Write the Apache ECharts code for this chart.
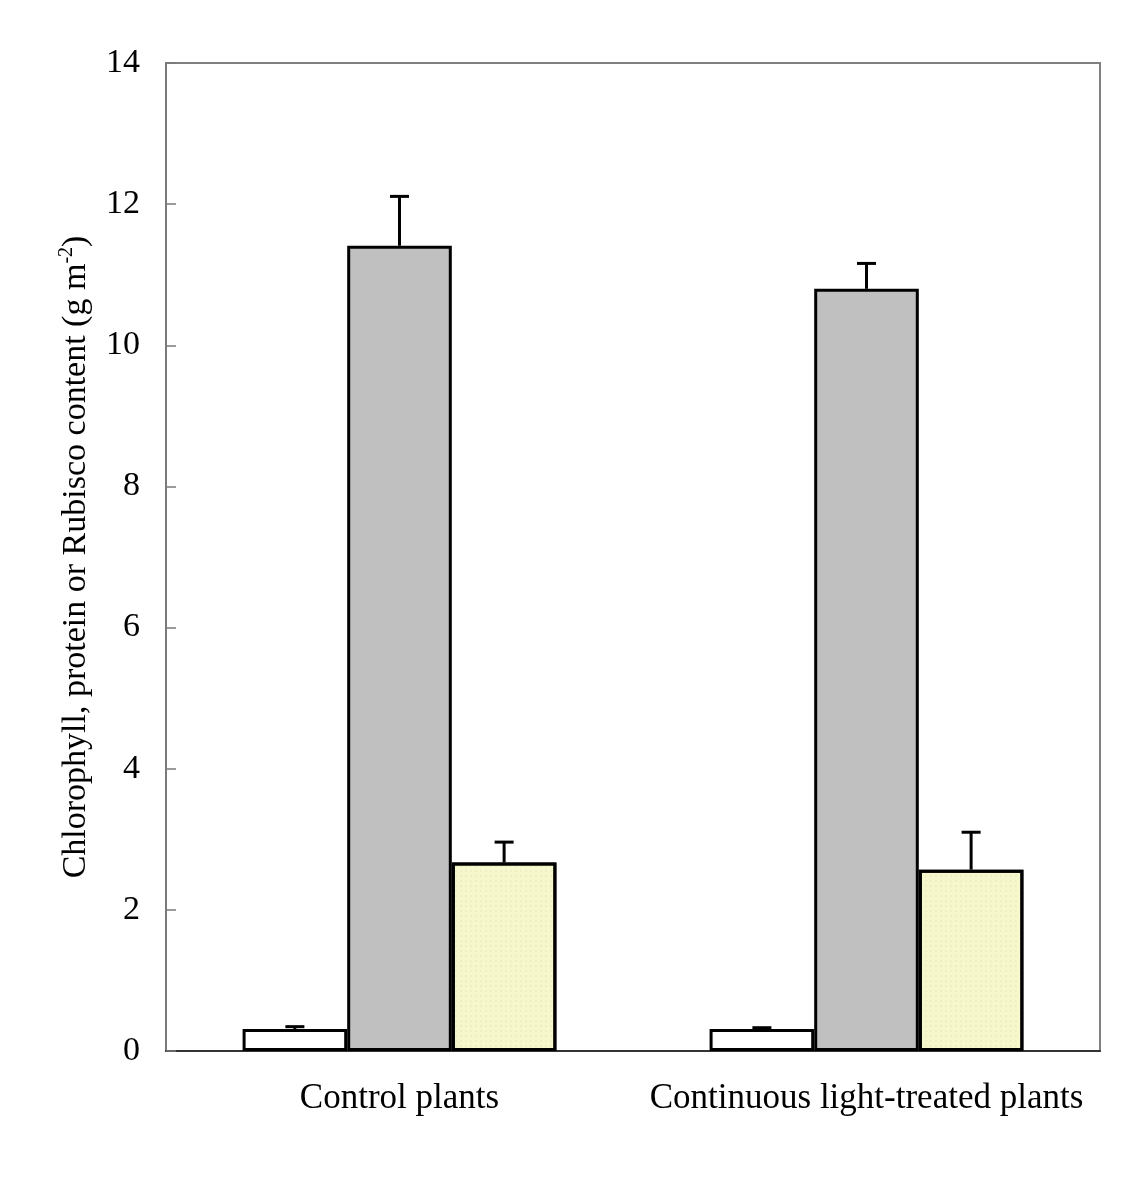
<!DOCTYPE html>
<html>
<head>
<meta charset="utf-8">
<script src="https://cdn.jsdelivr.net/npm/echarts@6/dist/echarts.min.js"></script>
<style>
  html, body { margin: 0; padding: 0; background: #fff; }
  #chart { width: 1145px; height: 1177px; }
</style>
</head>
<body>
<div id="chart"></div>
<script>
// Leaf composition: chlorophyll, total protein and Rubisco (g m-2), mean + SD
const categories = ['Control plants', 'Continuous light-treated plants'];
const chlorophyll = [0.31, 0.31];
const chlorophyllSD = [0.035, 0.02];
const protein = [11.41, 10.80];
const proteinSD = [0.70, 0.36];
const rubisco = [2.67, 2.57];
const rubiscoSD = [0.29, 0.53];
const yTicks = [0, 2, 4, 6, 8, 10, 12, 14];

const FONT = '"Liberation Serif", "DejaVu Serif", serif';
const BAR_FRACTION = 0.224;

const seriesValues = [chlorophyll, protein, rubisco];
const seriesSD = [chlorophyllSD, proteinSD, rubiscoSD];

// [categoryIndex, mean, sd, seriesIndex] rows for the error-bar overlay
const errorRows = [];
seriesValues.forEach((vals, s) => {
  vals.forEach((v, c) => errorRows.push([c, v, seriesSD[s][c], s]));
});

const chart = echarts.init(document.getElementById('chart'));

const barBase = {
  type: 'bar',
  barWidth: (BAR_FRACTION * 100) + '%',
  barGap: '0%',
  itemStyle: { borderColor: '#000', borderWidth: 3 },
  emphasis: { disabled: true },
  z: 2
};

chart.setOption({
  animation: false,
  backgroundColor: '#fff',
  grid: {
    left: 166, right: 45, top: 63, bottom: 126,
    show: true, borderColor: '#808080', borderWidth: 2, backgroundColor: 'transparent'
  },
  xAxis: {
    type: 'category',
    data: categories,
    boundaryGap: true,
    axisLine: { lineStyle: { color: '#333', width: 2 } },
    axisTick: { inside: true, length: 10, lineStyle: { color: '#000', width: 1 } },
    axisLabel: { interval: 0, hideOverlap: false, fontFamily: FONT, fontSize: 35, color: '#000', margin: 30 },
    splitLine: { show: false }
  },
  yAxis: {
    type: 'value',
    min: 0, max: 14, interval: 2,
    axisLine: { show: true, lineStyle: { color: '#7a7a7a', width: 2 } },
    axisTick: { show: true, inside: true, length: 10, lineStyle: { color: '#7a7a7a', width: 1.5 } },
    axisLabel: {
      fontFamily: FONT, fontSize: 34, color: '#000', margin: 26,
      formatter: v => (yTicks.includes(v) ? String(v) : '')
    },
    splitLine: { show: false },
    name: '{t|Chlorophyll, protein or Rubisco content (g m}{s|-2}{t|)}',
    nameLocation: 'middle',
    nameRotate: 90,
    nameGap: 71,
    nameTextStyle: {
      rich: {
        t: { fontFamily: FONT, fontSize: 34, color: '#000' },
        s: { fontFamily: FONT, fontSize: 20, color: '#000', verticalAlign: 'top', padding: [0, 0, 18, 0] }
      }
    }
  },
  series: [
    Object.assign({}, barBase, { name: 'Chlorophyll', data: chlorophyll, itemStyle: Object.assign({}, barBase.itemStyle, { color: '#ffffff' }) }),
    Object.assign({}, barBase, { name: 'Protein', data: protein, itemStyle: Object.assign({}, barBase.itemStyle, { color: '#c0c0c0' }) }),
    Object.assign({}, barBase, {
      name: 'Rubisco', data: rubisco,
      itemStyle: Object.assign({}, barBase.itemStyle, {
        color: '#f7f7cc',
        decal: {
          symbol: 'circle', symbolSize: 0.6,
          dashArrayX: [[2, 3]], dashArrayY: [2, 3],
          color: 'rgba(170,170,140,0.45)', rotation: 0
        }
      })
    }),
    {
      type: 'custom',
      name: 'SD',
      data: errorRows,
      z: 3,
      encode: { x: 0, y: 1 },
      renderItem: function (params, api) {
        const c = api.value(0);
        const mean = api.value(1);
        const sd = api.value(2);
        const s = api.value(3);
        const band = api.size([1, 0])[0];
        const dx = band * BAR_FRACTION * (s - 1);
        const base = api.coord([c, mean]);
        const top = api.coord([c, mean + sd]);
        const x = base[0] + dx;
        const capHalf = 9.5;
        const style = { stroke: '#000', lineWidth: 3, fill: null };
        return {
          type: 'group',
          children: [
            { type: 'line', shape: { x1: x, y1: base[1], x2: x, y2: top[1] }, style: style },
            { type: 'line', shape: { x1: x - capHalf, y1: top[1], x2: x + capHalf, y2: top[1] }, style: style }
          ]
        };
      }
    }
  ]
});
</script>
</body>
</html>
